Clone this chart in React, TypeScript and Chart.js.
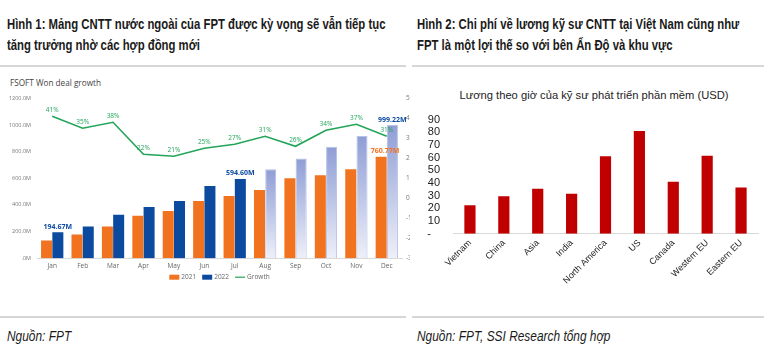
import React, { useEffect, useRef } from "react";
import { Chart, registerables } from "chart.js";
Chart.register(...registerables);

// ---------- Chart 1 data ----------
const months = ["Jan", "Feb", "Mar", "Apr", "May", "Jun", "Jul", "Aug", "Sep", "Oct", "Nov", "Dec"];
const deals2021 = [133, 178, 237, 318, 355, 430, 467, 511, 600, 622, 667, 760.77];
const deals2022 = [194.67, 237, 326, 385, 430, 541, 594.6, 667, 748, 837, 918, 999.22];
const growthPct = [41, 35, 38, 22, 21, 25, 27, 31, 26, 34, 37, 31];
const projectedStart = 7; // Aug onwards 2022 bars are projections
const labeled2021 = [11];
const labeled2022 = [0, 6, 11];
const leftTicks = [0, 200, 400, 600, 800, 1000, 1200];
const legendNames = ["2021", "2022", "Growth"];

// ---------- Chart 2 data ----------
const regions = ["Vietnam", "China", "Asia", "India", "North America", "US", "Canada", "Western EU", "Eastern EU"];
const hourlyWage = [22.5, 29.5, 35.5, 31.5, 61, 81, 41, 61.5, 36.5];

const ORANGE = "#F2731F";
const BLUE = "#0B4A9F";
const GREEN = "#22A559";
const RED = "#C00000";
const SANS = "'Liberation Sans', Arial, sans-serif";
const UI = "'Open Sans', 'Noto Sans', sans-serif";

function lightBarFill(ctx: any) {
  const chart = ctx.chart;
  const idx = ctx.dataIndex;
  if (idx < projectedStart) return BLUE;
  const y = chart.scales && chart.scales.y;
  if (!chart.chartArea || !y) return "#AFB9E3";
  const top = y.getPixelForValue(deals2022[idx]);
  const bottom = y.getPixelForValue(0);
  const g = chart.ctx.createLinearGradient(0, top, 0, bottom);
  g.addColorStop(0, "#8E9DD5");
  g.addColorStop(1, "#EEF0F9");
  return g;
}

const labelsPlugin = {
  id: "valueLabels",
  afterDatasetsDraw(chart: any) {
    const ctx = chart.ctx;
    ctx.save();
    ctx.textAlign = "center";
    ctx.textBaseline = "bottom";
    const m0 = chart.getDatasetMeta(0);
    const m1 = chart.getDatasetMeta(1);
    const m2 = chart.getDatasetMeta(2);
    ctx.font = `bold 7px ${UI}`;
    ctx.fillStyle = ORANGE;
    labeled2021.forEach((i) => {
      const el = m0.data[i];
      ctx.fillText(deals2021[i].toFixed(2) + "M", el.x + 4, el.y - 2);
    });
    ctx.fillStyle = BLUE;
    labeled2022.forEach((i) => {
      const el = m1.data[i];
      ctx.fillText(deals2022[i].toFixed(2) + "M", el.x, el.y - 2);
    });
    ctx.font = `6.5px ${UI}`;
    ctx.fillStyle = GREEN;
    growthPct.forEach((v, i) => {
      const el = m2.data[i];
      ctx.fillText(v + "%", el.x, el.y - 3);
    });

    // legend (drawn manually, centred under the plot area)
    const colors = [ORANGE, BLUE, GREEN];
    ctx.font = `6.5px ${UI}`;
    ctx.textAlign = "left";
    ctx.textBaseline = "middle";
    const ly = chart.chartArea.bottom + 19;
    const widths = legendNames.map((n) => ctx.measureText(n).width);
    const total = widths.reduce((a, b) => a + b, 0) + legendNames.length * 12 + (legendNames.length - 1) * 6;
    let x = (chart.chartArea.left + chart.chartArea.right) / 2 - total / 2;
    legendNames.forEach((n, i) => {
      if (i < 2) {
        ctx.fillStyle = colors[i];
        ctx.fillRect(x, ly - 2.5, 10, 5);
      } else {
        ctx.strokeStyle = colors[i];
        ctx.lineWidth = 1.2;
        ctx.beginPath();
        ctx.moveTo(x, ly);
        ctx.lineTo(x + 10, ly);
        ctx.stroke();
      }
      ctx.fillStyle = "#666";
      ctx.fillText(n, x + 12, ly);
      x += 12 + widths[i] + 6;
    });
    ctx.restore();
  },
};

function DealChart() {
  const ref = useRef<HTMLCanvasElement>(null);
  useEffect(() => {
    const chart = new Chart(ref.current!, {
      type: "bar",
      data: {
        labels: months,
        datasets: [
          {
            label: "2021",
            data: deals2021,
            backgroundColor: ORANGE,
            yAxisID: "y",
            order: 2,
            barPercentage: 0.98,
            categoryPercentage: 0.74,
          },
          {
            label: "2022",
            data: deals2022,
            backgroundColor: lightBarFill as any,
            borderColor: ((c: any) => (c.dataIndex >= projectedStart ? "rgba(150,165,215,0.7)" : BLUE)) as any,
            borderWidth: ((c: any) => (c.dataIndex >= projectedStart ? 1 : 0)) as any,
            yAxisID: "y",
            order: 2,
            barPercentage: 0.98,
            categoryPercentage: 0.74,
          },
          {
            type: "line",
            label: "Growth",
            data: growthPct,
            borderColor: GREEN,
            borderWidth: 1.6,
            pointRadius: 0,
            tension: 0,
            yAxisID: "y1",
            order: 1,
          } as any,
        ],
      },
      options: {
        animation: false,
        responsive: false,
        maintainAspectRatio: false,
        layout: { padding: { top: 1, left: 0, right: 0, bottom: 18 } },
        plugins: {
          tooltip: { enabled: false },
          legend: { display: false },
        },
        scales: {
          x: {
            grid: { display: false, drawTicks: false },
            border: { display: true, color: "#D9D9D9" },
            ticks: { font: { size: 6.5, family: UI }, color: "#666", padding: 4 },
          },
          y: {
            position: "left",
            min: 0,
            max: 1200,
            afterBuildTicks: (s: any) => {
              s.ticks = leftTicks.map((v) => ({ value: v }));
            },
            afterFit: (s: any) => {
              s.width = 37;
            },
            grid: { display: false, drawTicks: false },
            border: { display: false },
            ticks: {
              autoSkip: false,
              font: { size: 5.5, family: UI },
              color: "#777",
              padding: 6,
              callback: (v: any) => (v === 0 ? ".0M" : Number(v).toFixed(1) + "M"),
            },
          },
          y1: {
            position: "right",
            min: -30,
            max: 50,
            afterFit: (s: any) => {
              s.width = 8;
            },
            grid: { display: false, drawTicks: false },
            border: { display: false },
            ticks: {
              autoSkip: false,
              stepSize: 10,
              font: { size: 6.5, family: UI },
              color: "#777",
              padding: 4,
              callback: (v: any) => String(Number(v) / 10),
            },
          },
        },
      },
      plugins: [labelsPlugin],
    });
    return () => chart.destroy();
  }, []);
  return <canvas ref={ref} width={410} height={203} style={{ position: "absolute", left: 0, top: 89, width: 410, height: 203 }} />;
}

function WageChart() {
  const ref = useRef<HTMLCanvasElement>(null);
  useEffect(() => {
    const chart = new Chart(ref.current!, {
      type: "bar",
      data: {
        labels: regions,
        datasets: [
          {
            label: "USD",
            data: hourlyWage,
            backgroundColor: RED,
            barPercentage: 0.33,
            categoryPercentage: 1,
          },
        ],
      },
      options: {
        animation: false,
        responsive: false,
        maintainAspectRatio: false,
        layout: { padding: { top: 0, left: 0, right: 7, bottom: 0 } },
        plugins: {
          tooltip: { enabled: false },
          legend: { display: false },
        },
        scales: {
          x: {
            grid: { display: false, drawTicks: false },
            border: { display: true, color: "#D9D9D9" },
            ticks: {
              font: { size: 9, family: SANS },
              color: "#222",
              maxRotation: 45,
              minRotation: 45,
              autoSkip: false,
              padding: 4,
            },
          },
          y: {
            min: 0,
            max: 90,
            afterFit: (s: any) => {
              s.width = 43;
            },
            grid: { display: false, drawTicks: false },
            border: { display: false },
            ticks: {
              autoSkip: false,
              stepSize: 10,
              font: { size: 11, family: SANS },
              color: "#222",
              padding: 13,
              callback: (v: any) => (v === 0 ? "-   " : String(v)),
            },
          },
        },
      },
    });
    return () => chart.destroy();
  }, []);
  return <canvas ref={ref} width={355} height={190} style={{ position: "absolute", left: 410, top: 100, width: 355, height: 190 }} />;
}

const lineStyle: React.CSSProperties = {
  position: "absolute",
  fontFamily: SANS,
  fontWeight: "bold",
  fontSize: 14,
  lineHeight: "21px",
  color: "#1a1a1a",
  whiteSpace: "nowrap",
  transform: "scaleX(0.81)",
  transformOrigin: "0 0",
};
const footStyle: React.CSSProperties = {
  position: "absolute",
  fontFamily: SANS,
  fontStyle: "italic",
  fontSize: 14,
  color: "#1a1a1a",
  top: 328,
  whiteSpace: "nowrap",
  transform: "scaleX(0.85)",
  transformOrigin: "0 0",
};

export default function App() {
  return (
    <div style={{ position: "fixed", left: 0, top: 0, width: 765, height: 357, background: "#fff", overflow: "hidden" }}>
      <div style={{ ...lineStyle, left: 7, top: 14 }}>Hình 1: Mảng CNTT nước ngoài của FPT được kỳ vọng sẽ vẫn tiếp tục</div>
      <div style={{ ...lineStyle, left: 7, top: 35 }}>tăng trưởng nhờ các hợp đồng mới</div>
      <div style={{ ...lineStyle, left: 417, top: 14 }}>Hình 2: Chi phí về lương kỹ sư CNTT tại Việt Nam cũng như</div>
      <div style={{ ...lineStyle, left: 417, top: 35 }}>FPT là một lợi thế so với bên Ấn Độ và khu vực</div>
      <div style={{ position: "absolute", left: 0, top: 65, width: 406, height: 2, background: "#D6D6D6" }} />
      <div style={{ position: "absolute", left: 412, top: 65, width: 352, height: 2, background: "#D6D6D6" }} />
      <div style={{ position: "absolute", left: 10, top: 77, fontFamily: UI, fontSize: 8.2, color: "#444", whiteSpace: "nowrap" }}>
        FSOFT Won deal growth
      </div>
      <div
        style={{
          position: "absolute",
          left: 594,
          top: 89,
          fontFamily: SANS,
          fontSize: 11.2,
          color: "#222",
          whiteSpace: "nowrap",
          transform: "translateX(-50%)",
        }}
      >
        Lương theo giờ của kỹ sư phát triển phần mềm (USD)
      </div>
      <DealChart />
      <WageChart />
      <div style={{ position: "absolute", left: 0, top: 316, width: 406, height: 2, background: "#D6D6D6" }} />
      <div style={{ position: "absolute", left: 412, top: 316, width: 352, height: 2, background: "#D6D6D6" }} />
      <div style={{ ...footStyle, left: 7 }}>Nguồn: FPT</div>
      <div style={{ ...footStyle, left: 417 }}>Nguồn: FPT, SSI Research tổng hợp</div>
    </div>
  );
}
